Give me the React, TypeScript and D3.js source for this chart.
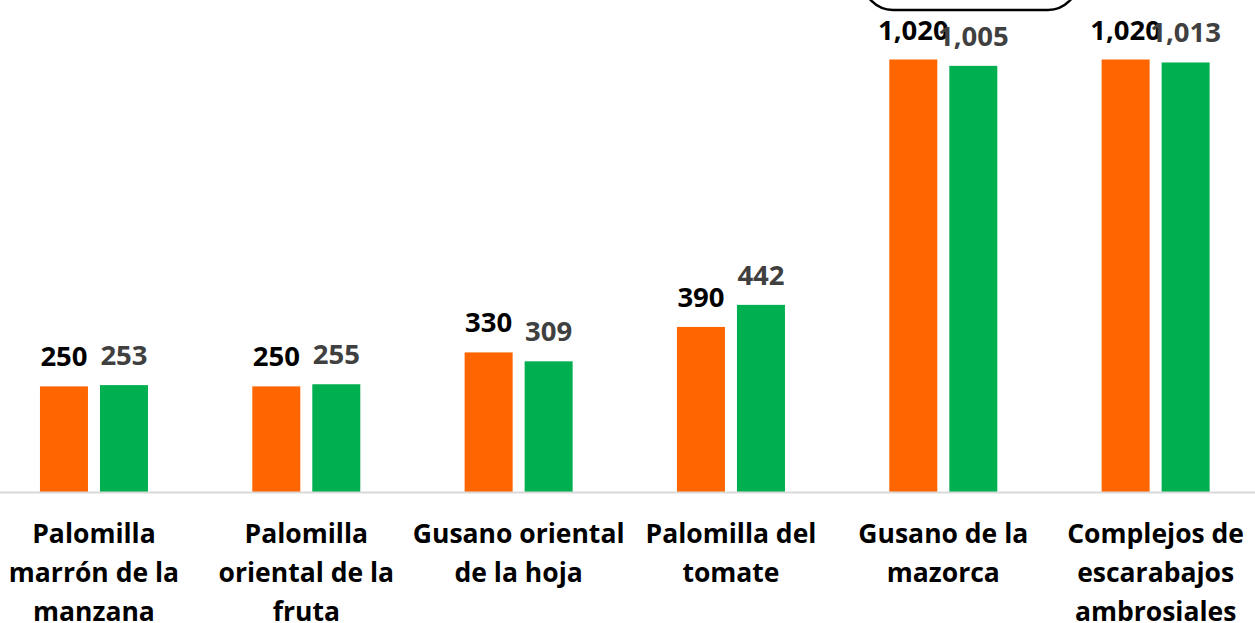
import React from "react";
import * as d3 from "d3";

const categories = [
  "Palomilla\nmarrón de la\nmanzana",
  "Palomilla\noriental de la\nfruta",
  "Gusano oriental\nde la hoja",
  "Palomilla del\ntomate",
  "Gusano de la\nmazorca",
  "Complejos de\nescarabajos\nambrosiales",
];
const seriesNames = ["s1", "s2"];
const orangeValues = [250, 250, 330, 390, 1020, 1020];
const greenValues = [253, 255, 309, 442, 1005, 1013];
const seriesColors = ["#FF6600", "#00B050"];
const labelColors = ["#000000", "#404040"];

const W = 1255;
const H = 623;
const FONT = "'Open Sans', sans-serif";

export default function App() {
  const x0 = d3.scaleBand<string>().domain(categories).range([-12.2, 1261.8]).padding(0);
  const x1 = d3.scaleBand<string>().domain(seriesNames).range([0, 108]).paddingInner(0.2).paddingOuter(0);
  const y = d3.scaleLinear().domain([0, 1020]).range([492.5, 59.5]);
  const fmt = d3.format(",");
  const series = [orangeValues, greenValues];

  return (
    <svg width={W} height={H} style={{ position: "absolute", left: 0, top: 0, background: "#fff" }}>
      <rect x={863} y={-60} width={215} height={70} rx={30} ry={30} fill="none" stroke="#000" strokeWidth={2.5} />
      {categories.map((c, i) => {
        const cx = (x0(c) as number) + x0.bandwidth() / 2;
        const gx = cx - 54;
        return (
          <g key={c}>
            {series.map((vals, s) => {
              const v = vals[i];
              const bx = gx + (x1(seriesNames[s]) as number);
              const bw = x1.bandwidth();
              return (
                <g key={s}>
                  <rect x={bx} y={y(v)} width={bw} height={y(0) - y(v)} fill={seriesColors[s]} />
                  <text
                    x={bx + bw / 2}
                    y={y(v) - 20}
                    textAnchor="middle"
                    fontFamily={FONT}
                    fontWeight={700}
                    fontSize={27.5}
                    fill={labelColors[s]}
                  >
                    {fmt(v)}
                  </text>
                </g>
              );
            })}
            <text textAnchor="middle" fontFamily={FONT} fontWeight={700} fontSize={26.5} fill="#000">
              {c.split("\n").map((line, k) => (
                <tspan key={k} x={cx} y={543 + k * 39}>
                  {line}
                </tspan>
              ))}
            </text>
          </g>
        );
      })}
      <line x1={0} x2={W} y1={492.5} y2={492.5} stroke="#D9D9D9" strokeWidth={2} />
    </svg>
  );
}
